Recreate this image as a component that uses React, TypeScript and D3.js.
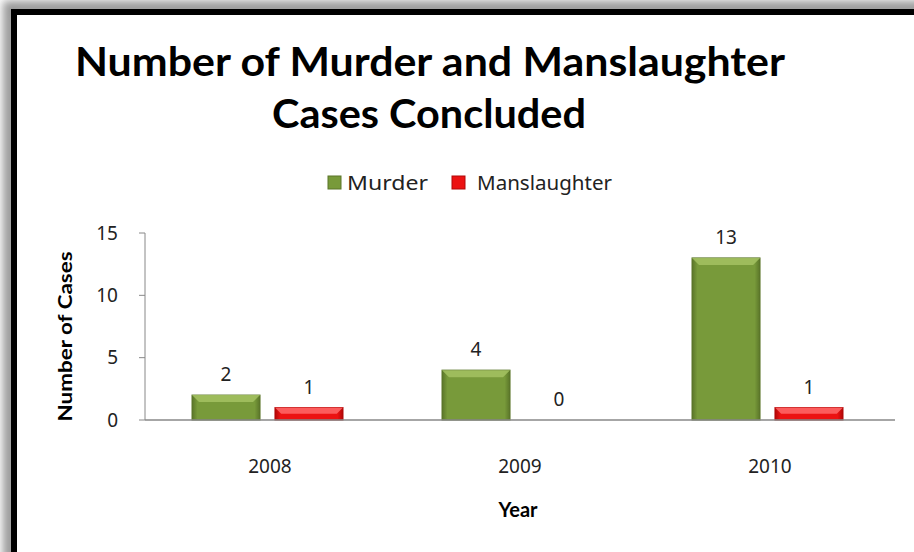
import React from 'react';
import * as d3 from 'd3';

const years = ['2008', '2009', '2010'];
const seriesNames = ['Murder', 'Manslaughter'];
const murder = [2, 4, 13];
const manslaughter = [1, 0, 1];
const yTicks = [0, 5, 10, 15];

const W = 914, H = 552;
const plot = { left: 145, right: 895, top: 233, bottom: 420 };

const colors = {
  Murder: { fill: '#789a3a', edge: '#5a7529', light: '#a4c263' },
  Manslaughter: { fill: '#ec1212', edge: '#b00808', light: '#ff6a6a' },
};

const label = { fontFamily: '"Noto Sans", sans-serif', fontSize: 19, fill: '#222' };

export default function App() {
  const x0 = d3.scaleBand().domain(years).range([plot.left, plot.right]).padding(0);
  const x1 = d3.scaleBand().domain(seriesNames).range([47, 198]).paddingInner(0.18);
  const y = d3.scaleLinear().domain([0, 15]).range([plot.bottom, plot.top]);

  const rows = years.map((yr, i) => ({ year: yr, values: [murder[i], manslaughter[i]] }));

  return (
    <div style={{ position: 'absolute', left: 0, top: 0 }}>
      <svg width={W} height={H} style={{ display: 'block', background: '#fff' }}>
        <defs>
          <filter id="blur" x="-10%" y="-10%" width="120%" height="120%">
            <feGaussianBlur stdDeviation="4" />
          </filter>
          {seriesNames.map(s => (
            <linearGradient key={s} id={'g-' + s} x1="0" x2="1" y1="0" y2="0">
              <stop offset="0" stopColor={colors[s].edge} />
              <stop offset="0.08" stopColor={colors[s].fill} />
              <stop offset="0.92" stopColor={colors[s].fill} />
              <stop offset="1" stopColor={colors[s].edge} />
            </linearGradient>
          ))}
        </defs>

        {/* frame with soft shadow */}
        <rect x={10} y={8} width={960} height={600} fill="none" stroke="#999" strokeWidth={14} filter="url(#blur)" />
        <rect x={0} y={0} width={W} height={H} fill="none" />
        <rect x={17} y={15} width={950} height={600} fill="#fff" />
        <rect x={14} y={12} width={960} height={600} fill="none" stroke="#000" strokeWidth={6} />

        {/* title */}
        <g fontFamily="Lato, 'Open Sans', sans-serif" fontWeight="bold" fontSize={41} fill="#000">
          <text x={75} y={76} textLength={710} lengthAdjust="spacingAndGlyphs">Number of Murder and Manslaughter</text>
          <text x={272} y={128} textLength={314} lengthAdjust="spacingAndGlyphs">Cases Concluded</text>
        </g>

        {/* legend */}
        <g>
          <rect x={328} y={176} width={13} height={13} fill={colors.Murder.fill} stroke={colors.Murder.edge} />
          <text x={347} y={190} {...label} fontSize={20} textLength={81} lengthAdjust="spacingAndGlyphs">Murder</text>
          <rect x={452} y={176} width={13} height={13} fill={colors.Manslaughter.fill} stroke={colors.Manslaughter.edge} />
          <text x={477} y={190} {...label} fontSize={20} textLength={135} lengthAdjust="spacingAndGlyphs">Manslaughter</text>
        </g>

        {/* y axis */}
        <line x1={plot.left} x2={plot.left} y1={y(15)} y2={y(0)} stroke="#888" />
        {yTicks.map(t => (
          <g key={t}>
            <line x1={plot.left - 6} x2={plot.left} y1={y(t)} y2={y(t)} stroke="#888" />
            <text x={118} y={y(t)} dy="0.35em" textAnchor="end" {...label}>{t}</text>
          </g>
        ))}
        <text transform={`translate(72,${(plot.top + plot.bottom) / 2 + 10}) rotate(-90)`} textAnchor="middle"
          fontFamily="Lato, sans-serif" fontWeight="bold" fontSize={18} fill="#000" textLength={170} lengthAdjust="spacingAndGlyphs">
          Number of Cases
        </text>

        {/* bars */}
        {rows.map(r => (
          <g key={r.year} transform={`translate(${x0(r.year)},0)`}>
            {seriesNames.map((s, j) => {
              const v = r.values[j];
              const bx = x1(s)!;
              const bw = x1.bandwidth();
              const top = y(v);
              const h = y(0) - top;
              const bev = Math.min(7, h / 2);
              return (
                <g key={s}>
                  {h > 0 && (
                    <>
                      <rect x={bx} y={top} width={bw} height={h} fill={`url(#g-${s})`} stroke={colors[s].edge} strokeWidth={1} />
                      <polygon
                        points={`${bx},${top} ${bx + bw},${top} ${bx + bw - bev},${top + bev} ${bx + bev},${top + bev}`}
                        fill={colors[s].light} opacity={0.85} />
                    </>
                  )}
                  <text x={bx + bw / 2} y={top - 14} textAnchor="middle" {...label}>{v}</text>
                </g>
              );
            })}
          </g>
        ))}

        {/* x axis */}
        <line x1={plot.left} x2={plot.right} y1={plot.bottom} y2={plot.bottom} stroke="#888" strokeWidth={1.5} />
        {years.map(yr => (
          <text key={yr} x={x0(yr)! + x0.bandwidth() / 2} y={466} dy="0.35em" textAnchor="middle" {...label}>{yr}</text>
        ))}
        <text x={518} y={517} textAnchor="middle" fontFamily="Lato, sans-serif" fontWeight="bold" fontSize={20} fill="#000">Year</text>
      </svg>
    </div>
  );
}
